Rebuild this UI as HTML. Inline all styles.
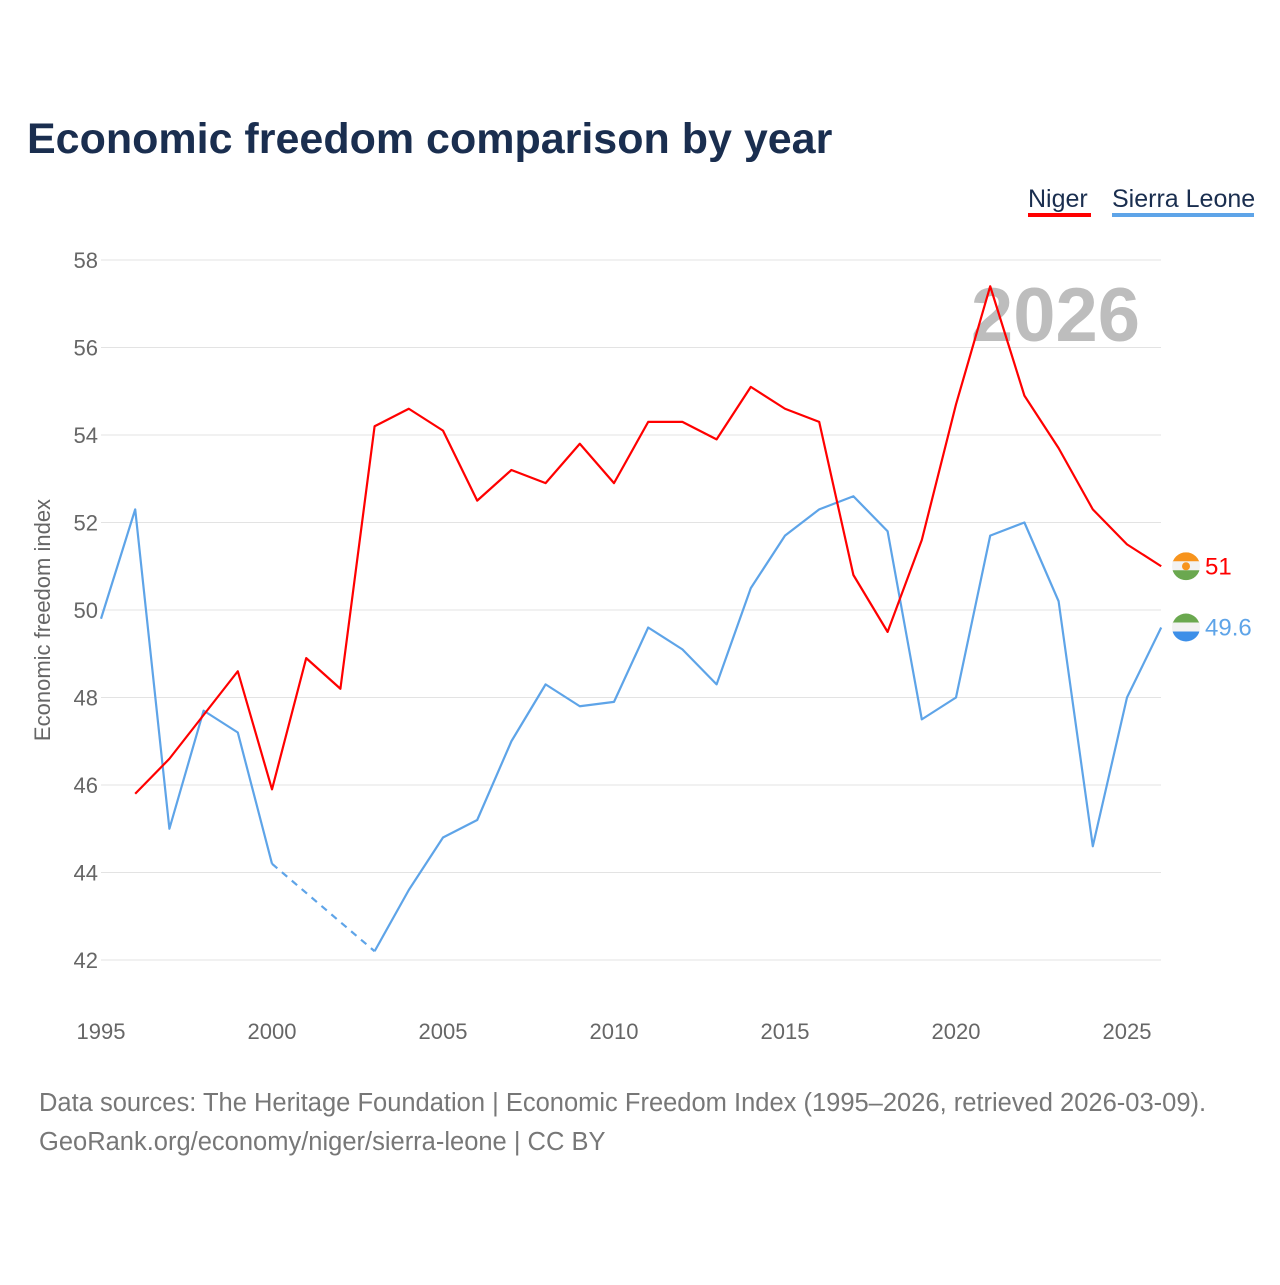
<!DOCTYPE html>
<html><head><meta charset="utf-8"><style>
body{margin:0;background:#fff;width:1280px;height:1280px;overflow:hidden;font-family:"Liberation Sans",sans-serif;}
svg text{font-family:"Liberation Sans",sans-serif;}
</style></head><body>
<svg id="c" width="1280" height="1280"></svg>
<script>
const years=[1995,1996,1997,1998,1999,2000,2001,2002,2003,2004,2005,2006,2007,2008,2009,2010,2011,2012,2013,2014,2015,2016,2017,2018,2019,2020,2021,2022,2023,2024,2025,2026];
const niger=[null,45.8,46.6,47.6,48.6,45.9,48.9,48.2,54.2,54.6,54.1,52.5,53.2,52.9,53.8,52.9,54.3,54.3,53.9,55.1,54.6,54.3,50.8,49.5,51.6,54.7,57.4,54.9,53.7,52.3,51.5,51.0];
const sierra=[49.8,52.3,45.0,47.7,47.2,44.2,null,null,42.2,43.6,44.8,45.2,47.0,48.3,47.8,47.9,49.6,49.1,48.3,50.5,51.7,52.3,52.6,51.8,47.5,48.0,51.7,52.0,50.2,44.6,48.0,49.6];
const yTicks=[42,44,46,48,50,52,54,56,58];
const xTicks=[1995,2000,2005,2010,2015,2020,2025];
const NS="http://www.w3.org/2000/svg";
const svg=document.getElementById('c');
const X=y=>101+(y-1995)*34.2;
const Y=v=>260+(58-v)*43.75;
function mk(t,a,txt){const e=document.createElementNS(NS,t);for(const k in a)e.setAttribute(k,a[k]);if(txt!=null)e.textContent=txt;svg.appendChild(e);return e;}
let e;
e=mk('text',{x:27,y:153,'font-size':43,'font-weight':'bold',fill:'#1a2e4f'},'Economic freedom comparison by year');


yTicks.forEach(v=>{
 e=mk('line',{x1:101,x2:1161,y1:Y(v),y2:Y(v),stroke:'#e3e3e3','stroke-width':1});
 
 
 e=mk('text',{x:98,y:Y(v)+8,'text-anchor':'end','font-size':22,fill:'#666'},v);
 
 
});
xTicks.forEach(v=>{
 e=mk('text',{x:X(v),y:1039,'text-anchor':'middle','font-size':22,fill:'#666'},v);
 
 
});
e=mk('text',{x:50,y:620,'text-anchor':'middle','font-size':22,fill:'#666',transform:'rotate(-90 50 620)'},'Economic freedom index');


e=mk('text',{x:1140,y:341,'text-anchor':'end','font-size':76,'font-weight':'bold',fill:'#bdbdbd'},'2026');


function series(vals,color,name){
 let d='',pen=false,last=null;
 vals.forEach((v,i)=>{
  if(v==null){pen=false;return;}
  if(!pen&&last!=null){
   e=mk('line',{x1:X(years[last]),y1:Y(vals[last]),x2:X(years[i]),y2:Y(v),stroke:color,'stroke-width':2.2,'stroke-dasharray':'7,6'});
   
   
  }
  d+=(pen?'L':'M')+X(years[i])+','+Y(v);pen=true;last=i;
 });
 e=mk('path',{d:d,fill:'none',stroke:color,'stroke-width':2.2,'stroke-linejoin':'round'});
 
 
}
series(sierra,'#5ea4e8','sierra-leone');
series(niger,'#ff0000','niger');
function endLabel(vals,color,name,c1,c2,c3,dot){
 const v=vals[vals.length-1],x=1186,y=Y(v);
 const g=document.createElementNS(NS,'g');svg.appendChild(g);
 
 
 g.innerHTML=`<clipPath id="cl${name}"><circle cx="${x}" cy="${y}" r="14"/></clipPath><g clip-path="url(#cl${name})"><rect x="${x-14}" y="${y-14}" width="28" height="10" fill="${c1}"/><rect x="${x-14}" y="${y-5}" width="28" height="10" fill="${c2}"/><rect x="${x-14}" y="${y+4}" width="28" height="10" fill="${c3}"/></g>`+(dot?`<circle cx="${x}" cy="${y}" r="4" fill="#f7941d"/>`:'');
 e=mk('text',{x:1205,y:y+8,'font-size':24,fill:color},v);
 
 
}
endLabel(niger,'#ff0000','niger','#f7941d','#f2f2f2','#6aa84f',true);
endLabel(sierra,'#5ea4e8','sierra-leone','#6aa84f','#f2f2f2','#3d8fe8',false);
e=mk('text',{x:1028,y:207,'font-size':25,fill:'#1a2e4f'},'Niger');


e=mk('rect',{x:1028,y:213,width:63,height:4,fill:'#ff0000'});


e=mk('text',{x:1112,y:207,'font-size':25,fill:'#1a2e4f'},'Sierra Leone');


e=mk('rect',{x:1112,y:213,width:142,height:4,fill:'#5ea4e8'});


e=mk('text',{x:39,y:1111,'font-size':25.5,fill:'#777'},'Data sources: The Heritage Foundation | Economic Freedom Index (1995–2026, retrieved 2026-03-09).');


e=mk('text',{x:39,y:1150,'font-size':25.5,fill:'#777'},'GeoRank.org/economy/niger/sierra-leone | CC BY');


</script>
</body></html>
